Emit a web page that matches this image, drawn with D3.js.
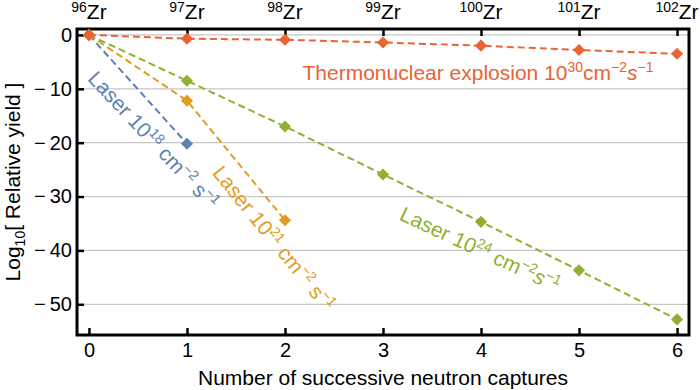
<!DOCTYPE html>
<html>
<head>
<meta charset="utf-8">
<script src="https://cdn.jsdelivr.net/npm/d3@7"></script>
<style>
body { margin: 0; background: #fff; }
svg { font-family: "Liberation Sans", Arial, sans-serif; }
</style>
</head>
<body>
<svg id="chart" width="700" height="390"></svg>
<script>
// values
var captures = [0, 1, 2, 3, 4, 5, 6];
var isotopes = ["96", "97", "98", "99", "100", "101", "102"];
var yTicks = [0, -10, -20, -30, -40, -50];

var thermoYield = [0, -0.7, -0.9, -1.4, -2.0, -2.8, -3.5];
var laser18Yield = [0, -20.2];
var laser21Yield = [0, -12.2, -34.4];
var laser24Yield = [0, -8.5, -17.0, -25.9, -34.7, -43.7, -52.8];

var colors = {
	"laser18": "#5e81b5",
	"laser21": "#e19c24",
	"laser24": "#8fb032",
	"thermo": "#eb6235"
};

var width = 700,
height = 390,
margin = {"top": 29, "right": 11, "bottom": 55, "left": 77};

var svg = d3.select("#chart");

var x = d3.scaleLinear()
.domain([-0.122, 6.122])
.range([margin.left, width - margin.right]);

var y = d3.scaleLinear()
.domain([1.1, -55.7])
.range([margin.top, height - margin.bottom]);

// grid lines
svg.append("g")
.attr("class", "grid")
.selectAll("line")
.data(yTicks)
.enter().append("line")
.attr("x1", margin.left)
.attr("x2", width - margin.right)
.attr("y1", d => y(d))
.attr("y2", d => y(d))
.attr("stroke", "#c6c6c6")
.attr("stroke-width", 1.3);

// bottom axis, ticks pointing inward
svg.append("g")
.attr("transform", `translate(0,${height - margin.bottom})`)
.call(d3.axisBottom(x).tickValues(captures).tickSize(-7).tickPadding(8).tickFormat(d3.format("d")))
.call(g => g.select(".domain").remove())
.call(g => g.selectAll(".tick line").attr("stroke-width", 2.5))
.call(g => g.selectAll("text").attr("font-size", 20).attr("fill", "#000"));

// top axis with isotope labels
svg.append("g")
.attr("transform", `translate(0,${margin.top})`)
.call(d3.axisTop(x).tickValues(captures).tickSize(-7).tickFormat(""))
.call(g => g.select(".domain").remove())
.call(g => g.selectAll(".tick line").attr("stroke-width", 2.5));

var topLabels = svg.append("g")
.selectAll("text")
.data(captures)
.enter().append("text")
.attr("x", d => x(d))
.attr("y", 19)
.attr("text-anchor", "middle")
.attr("font-size", 21)
.attr("fill", "#000");

topLabels.append("tspan")
.attr("font-size", 14)
.attr("dy", -7)
.text((d, i) => isotopes[i]);

topLabels.append("tspan")
.attr("dy", 7)
.text("Zr");

// left axis
svg.append("g")
.attr("transform", `translate(${margin.left},0)`)
.call(d3.axisLeft(y).tickValues(yTicks).tickSize(-7).tickPadding(5).tickFormat(d => d < 0 ? "\u2212\u2009" + Math.abs(d) : d))
.call(g => g.select(".domain").remove())
.call(g => g.selectAll(".tick line").attr("stroke-width", 2.5))
.call(g => g.selectAll("text").attr("font-size", 20).attr("fill", "#000"));

// frame
svg.append("rect")
.attr("x", margin.left)
.attr("y", margin.top)
.attr("width", width - margin.left - margin.right)
.attr("height", height - margin.top - margin.bottom)
.attr("fill", "none")
.attr("stroke", "#000")
.attr("stroke-width", 3);

// axis titles
svg.append("text")
.attr("x", x(3))
.attr("y", 385)
.attr("text-anchor", "middle")
.attr("font-size", 21)
.text("Number of successive neutron captures");

var yTitle = svg.append("text")
.attr("transform", "translate(20,182) rotate(-90)")
.attr("text-anchor", "middle")
.attr("font-size", 21);
yTitle.append("tspan").text("Log");
yTitle.append("tspan").attr("font-size", 14).attr("dy", 5).text("10");
yTitle.append("tspan").attr("dy", -5).text("[ Relative yield ]");

// series
var seriesList = [
	{"key": "laser18", "values": laser18Yield},
	{"key": "laser21", "values": laser21Yield},
	{"key": "laser24", "values": laser24Yield},
	{"key": "thermo", "values": thermoYield}
];

var line = d3.line()
.x((d, i) => x(captures[i]))
.y(d => y(d));

var diamond = d3.symbol().type(d3.symbolSquare).size(74);

seriesList.forEach(function(s) {
	svg.append("path")
	.datum(s.values)
	.attr("d", line)
	.attr("fill", "none")
	.attr("stroke", colors[s.key])
	.attr("stroke-width", 2)
	.attr("stroke-dasharray", "7,4");

	svg.append("g")
	.selectAll("path")
	.data(s.values)
	.enter().append("path")
	.attr("d", diamond)
	.attr("transform", (d, i) => `translate(${x(captures[i])},${y(d)}) rotate(45)`)
	.attr("fill", colors[s.key]);
});

// series labels, placed by their middle
function addLabel(key, px, py, angle, size, parts) {
	var t = svg.append("text")
	.attr("transform", `translate(${px},${py}) rotate(${angle})`)
	.attr("text-anchor", "middle")
	.attr("font-size", size)
	.attr("fill", colors[key]);
	var shift = 0;
	parts.forEach(function(p) {
		var up = p.sup ? -8 : 0;
		var ts = t.append("tspan")
		.attr("dy", up - shift)
		.text(p.text);
		if (p.sup) ts.attr("font-size", 14);
		if (p.italic) ts.attr("font-style", "italic");
		shift = up;
	});
}

addLabel("thermo", 478, 80, 0, 21, [
	{"text": "Thermonuclear explosion 10"}, {"text": "30", "sup": true},
	{"text": "cm"}, {"text": "\u22122", "sup": true},
	{"text": "s", "italic": true}, {"text": "\u22121", "sup": true}
]);

addLabel("laser18", 148, 145, 47, 21, [
	{"text": "Laser 10"}, {"text": "18", "sup": true},
	{"text": " cm"}, {"text": "\u22122", "sup": true},
	{"text": " s"}, {"text": "\u22121", "sup": true}
]);

addLabel("laser21", 268, 243, 51, 21, [
	{"text": "Laser 10"}, {"text": "21", "sup": true},
	{"text": " cm"}, {"text": "\u22122", "sup": true},
	{"text": " s"}, {"text": "\u22121", "sup": true}
]);

addLabel("laser24", 477, 256, 25, 21, [
	{"text": "Laser 10"}, {"text": "24", "sup": true},
	{"text": " cm"}, {"text": "\u22122", "sup": true},
	{"text": "s", "italic": true}, {"text": "\u22121", "sup": true}
]);
</script>
</body>
</html>
